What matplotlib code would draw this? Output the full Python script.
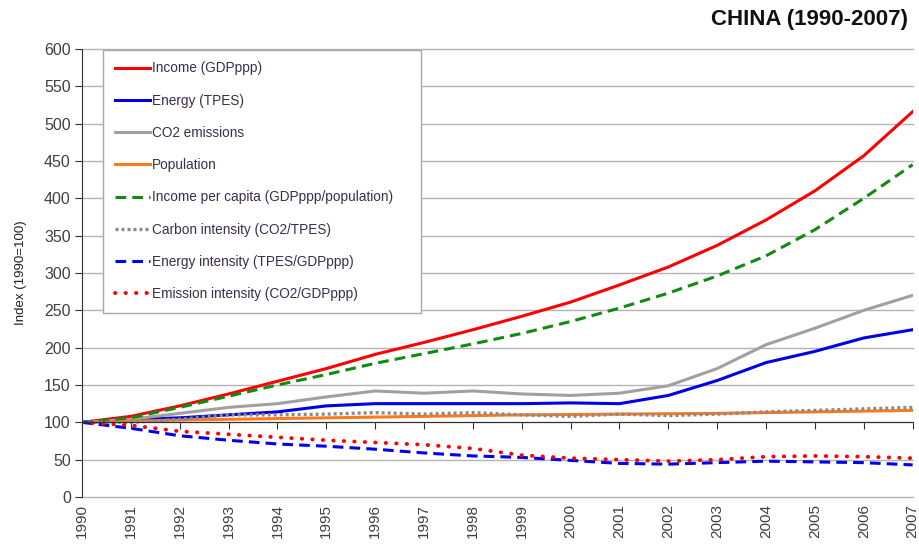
import matplotlib
matplotlib.use('Agg')
import matplotlib.pyplot as plt
import numpy as np

plt.rcParams['font.family'] = ['Liberation Sans', 'DejaVu Sans']

years = list(range(1990, 2008))

income = [100, 108, 122, 138, 155, 172, 191, 207, 224, 242, 261, 284, 308, 337, 371, 410, 457, 516]
energy = [100, 104, 106, 110, 114, 122, 125, 125, 125, 125, 126, 125, 136, 156, 180, 195, 213, 224]
co2 = [100, 104, 112, 120, 125, 134, 142, 139, 142, 138, 136, 139, 149, 172, 204, 226, 250, 270]
population = [100, 101.5, 103, 104, 105, 106, 107, 108, 109, 110, 110.5, 111, 111.5, 112, 113, 114, 115, 116]
income_pc = [100, 106, 120, 135, 150, 164, 179, 192, 205, 219, 235, 253, 273, 296, 323, 358, 400, 445]
carbon_int = [100, 100, 104, 110, 110, 111, 113, 111, 113, 110, 108, 111, 109, 111, 114, 116, 118, 120]
energy_int = [100, 92, 82, 76, 71, 68, 64, 59, 55, 53, 49, 45, 44, 46, 48, 47, 46, 43]
emission_int = [100, 96, 88, 84, 80, 76, 73, 70, 65, 56, 52, 50, 48, 50, 54, 55, 54, 52]

labels = ['Income (GDPppp)', 'Energy (TPES)', 'CO2 emissions', 'Population',
          'Income per capita (GDPppp/population)', 'Carbon intensity (CO2/TPES)',
          'Energy intensity (TPES/GDPppp)', 'Emission intensity (CO2/GDPppp)']

fig = plt.figure(figsize=(9.2, 5.44), dpi=100, facecolor='w')
ax = fig.add_axes([0.0891, 0.0864, 0.9029, 0.8236])

lw = 2.2
ax.plot(years, income, color='#ff0000', lw=lw, label=labels[0])
ax.plot(years, energy, color='#0000e6', lw=lw, label=labels[1])
ax.plot(years, co2, color='#a0a0a0', lw=lw, label=labels[2])
ax.plot(years, population, color='#fb7a1e', lw=lw, label=labels[3])
ax.plot(years, income_pc, color='#108a10', lw=lw, dashes=(3.5, 2), label=labels[4])
ax.plot(years, carbon_int, color='#8a8a8a', lw=2.4, dashes=(0.9, 0.9), label=labels[5])
ax.plot(years, energy_int, color='#0000f0', lw=lw, dashes=(3.5, 2), label=labels[6])
ax.plot(years, emission_int, color='#ff0000', lw=2.8, dashes=(0.1, 2.6),
        dash_capstyle='round', label=labels[7])

ax.set_xlim(1990, 2007)
ax.set_ylim(0, 600)
ax.set_yticks(range(0, 601, 50))
ax.yaxis.grid(True, color='#b4b4b4', lw=1)
ax.set_axisbelow(True)
for gl in ax.get_ygridlines():
    gl.set_clip_on(False)

for s in ['top', 'right']:
    ax.spines[s].set_visible(False)
ax.spines['left'].set_color('#303030')
ax.spines['bottom'].set_position(('data', 100))
ax.spines['bottom'].set_color('#303030')

ax.set_xticks(years)
ax.tick_params(axis='x', direction='out', length=5, color='#303030', labelbottom=False)
ax.tick_params(axis='y', direction='out', length=5, color='#303030', labelsize=11.5,
               labelcolor='#404040', pad=3)

sec = ax.secondary_xaxis(0.0)
sec.spines['bottom'].set_visible(False)
sec.set_xticks(years)
sec.set_xticklabels([str(y) for y in years], rotation=90)
sec.tick_params(length=0, pad=5, labelsize=11, labelcolor='#404040')

ax.set_ylabel('Index (1990=100)', fontsize=9.5, color='#202020', labelpad=12)

leg = ax.legend(loc='upper left', bbox_to_anchor=(0.0253, 0.424, 0.383, 0.574),
                mode='expand', fontsize=9.8, handlelength=2.6, handletextpad=0.15,
                labelspacing=1.34, borderpad=0.85, fancybox=False, framealpha=1,
                edgecolor='#a8a8a8', borderaxespad=0)
leg.get_frame().set_linewidth(1)
for t in leg.get_texts():
    t.set_color('#3a2f48')

fig.text(0.987, 0.964, 'CHINA (1990-2007)', ha='right', va='center',
         fontsize=16, fontweight='bold', color='#101010')

fig.savefig('out.png', dpi=100)
